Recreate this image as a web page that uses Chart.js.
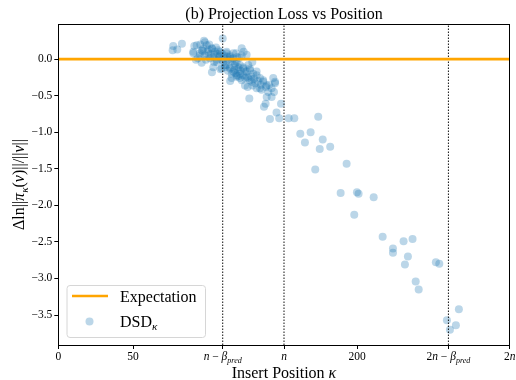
<!DOCTYPE html>
<html>
<head>
<meta charset="utf-8">
<script src="https://cdn.jsdelivr.net/npm/chart.js@4.4.1/dist/chart.umd.min.js"></script>
<style>
  html, body { margin: 0; padding: 0; background: #fff; }
  canvas { display: block; }
</style>
</head>
<body>
<canvas id="c" width="516" height="380"></canvas>
<script>
// Insert position κ of each sample and the change in log projection norm
const insertPositions = [
  // far tail
  149, 146, 141.6, 147.8, 154.1, 157.9, 173.9, 161.9, 168.8, 165,
  176.9, 174.9, 181.9, 171.9, 192.9, 188.9, 199.8, 200.9, 211, 198,
  217, 223.9, 223.9, 231, 237, 233.9, 231.9, 252.6, 254.9, 239.1,
  241.1, 268, 260, 266, 262,
  // main cluster
  76.9, 79.6, 82.7, 76.5, 91, 90.3, 92.1, 95.9, 98.1, 99.3,
  102.6, 97, 94.8, 100.3, 103.7, 102.8, 108.2, 110, 106, 109.3,
  112.6, 114.8, 117.1, 119.7, 122.7, 122.7, 126, 129.8, 111.7, 114.8,
  118.2, 109.3, 117.1, 120.4, 123.7, 121.5, 124.9, 126, 128.2, 116,
  119.3, 122.7, 128.2, 132.7, 126.7, 131.6, 137.1, 134.9, 138.9, 143.8,
  145, 140.5, 139.4, 144.3, 142.7, 127.8, 137.6, 138.7,
  92.6, 97.5, 101, 96.5, 103, 104.8, 107, 109.3, 112.6, 114.8,
  117.1, 119.3, 121.5, 123.7, 126, 128.2, 130.4, 132.7, 123.7, 127.1,
  134.9, 137.1, 139.4, 142.7, 145, 132.7, 136, 110.4, 112.6, 114.8,
  117.8, 119.3, 121.5, 115, 108.5, 106, 103.7, 90.3, 94.8, 101.5,
  127.1, 129.4, 124.9, 93.4, 98.8, 104.2, 107.5, 110.8, 113.5,
  100, 102, 104.5, 106.5, 108, 111, 113, 115.5, 116.5, 118,
  120, 122, 111.5, 113.5, 116, 118.5, 120.5, 125, 129, 131,
  133.5, 135.5, 130, 141, 98, 96, 95, 100.5, 105.5, 119,
  124, 121
];
const projectionLoss = [
  -0.61, -0.73, -0.82, -0.81, -0.81, -0.81, -0.79, -1.02, -1.0, -1.14,
  -1.1, -1.23, -1.2, -1.51, -1.43, -1.83, -1.82, -1.84, -1.89, -2.13,
  -2.43, -2.59, -2.65, -2.49, -2.46, -2.7, -2.81, -2.78, -2.8, -3.04,
  -3.15, -3.42, -3.57, -3.64, -3.7,
  0.18, 0.13, 0.21, 0.12, 0.18, 0.08, -0.01, -0.05, 0.23, 0.19,
  0.15, 0.14, 0.08, 0.05, 0.03, -0.18, 0.1, 0.28, -0.04, -0.01,
  0.08, 0.03, 0.08, 0.03, 0.15, 0.05, 0.06, -0.04, -0.08, -0.11,
  -0.06, -0.13, -0.17, -0.11, -0.11, -0.2, -0.17, -0.24, -0.15, -0.26,
  -0.24, -0.29, -0.29, -0.22, -0.38, -0.33, -0.29, -0.4, -0.38, -0.26,
  -0.33, -0.45, -0.52, -0.45, -0.52, -0.54, -0.65, -0.61,
  0.19, 0.25, 0.2, 0.11, 0.14, 0.1, 0.12, 0.08, 0.1, 0.05,
  0.01, -0.04, -0.08, -0.13, -0.17, -0.13, -0.2, -0.17, -0.22, -0.26,
  -0.26, -0.31, -0.36, -0.4, -0.31, -0.4, -0.42, -0.04, -0.08, -0.13,
  -0.15, -0.22, -0.26, -0.3, -0.14, -0.01, -0.11, 0.1, 0.05, 0.01,
  -0.08, -0.31, -0.36, 0.01, -0.01, -0.04, 0.03, 0.01, -0.01,
  0.1, 0.07, 0.06, 0.07, 0.05, 0.05, 0.03, 0.0, -0.03, -0.09,
  -0.14, -0.16, -0.11, -0.16, -0.2, -0.19, -0.23, -0.26, -0.24, -0.27,
  -0.3, -0.35, -0.36, -0.35, 0.05, 0.12, 0.2, 0.13, 0.16, 0.08,
  0.1, 0.02
];

// Sequence length n and predicted offset β_pred that define the reference positions
const seqLen = 151;
const betaPred = 41;
const markerPositions = [seqLen - betaPred, seqLen, 2 * seqLen - betaPred];

const xTickValues = [0, 50, seqLen - betaPred, seqLen, 200, 2 * seqLen - betaPred, 2 * seqLen];
const xTickLabels = ['0', '50', '*n* − *β*_{*pred*}', '*n*', '200', '2*n* − *β*_{*pred*}', '2*n*'];
const yTickValues = [0, -0.5, -1.0, -1.5, -2.0, -2.5, -3.0, -3.5];
const yMin = -3.91, yMax = 0.48;
const expectationLevel = 0;

const titleText = '(b) Projection Loss vs Position';
const xAxisTitle = 'Insert Position *κ*';
const yAxisTitle = 'Δln||*π*_{*κ*}(*v*)||/||*v*||';
const legendLabels = ['Expectation', 'DSD_{*κ*}'];

const SERIF = '"Liberation Serif", "Times New Roman", serif';
const ORANGE = '#FFA500';
const DOT = 'rgba(31,119,180,0.3)';

// Tiny markup: *...* toggles italics, _{...} is a subscript
function parseMath(s) {
  const segs = [];
  let italic = false, sub = false, buf = '';
  const push = () => { if (buf) segs.push({ t: buf, italic, sub }); buf = ''; };
  for (let i = 0; i < s.length; i++) {
    const c = s[i];
    if (c === '*') { push(); italic = !italic; }
    else if (c === '_' && s[i + 1] === '{') { push(); sub = true; i++; }
    else if (c === '}' && sub) { push(); sub = false; }
    else buf += c;
  }
  push();
  return segs;
}
function segFont(seg, size) {
  return (seg.italic ? 'italic ' : '') + (seg.sub ? size * 0.7 : size) + 'px ' + SERIF;
}
function drawMath(ctx, s, x, y, size, align) {
  const segs = parseMath(s);
  let w = 0;
  segs.forEach(seg => { ctx.font = segFont(seg, size); seg.w = ctx.measureText(seg.t).width; w += seg.w; });
  let cx = align === 'center' ? x - w / 2 : (align === 'right' ? x - w : x);
  ctx.textAlign = 'left';
  ctx.textBaseline = 'alphabetic';
  segs.forEach(seg => {
    ctx.font = segFont(seg, size);
    ctx.fillText(seg.t, cx, y + (seg.sub ? size * 0.22 : 0));
    cx += seg.w;
  });
}

const decorations = {
  id: 'decorations',
  afterDraw(chart) {
    const { ctx, chartArea: a, scales } = chart;
    ctx.save();
    ctx.fillStyle = '#000';

    // frame around the plotting area
    ctx.strokeStyle = '#000';
    ctx.lineWidth = 1;
    ctx.strokeRect(Math.round(a.left) + 0.5, Math.round(a.top) + 0.5,
                   Math.round(a.right - a.left), Math.round(a.bottom - a.top));

    // x tick labels
    xTickValues.forEach((v, i) => {
      drawMath(ctx, xTickLabels[i], scales.x.getPixelForValue(v), a.bottom + 15, 11.5, 'center');
    });

    // title and axis titles
    drawMath(ctx, titleText, (a.left + a.right) / 2, 19, 16, 'center');
    drawMath(ctx, xAxisTitle, (a.left + a.right) / 2, 378, 16, 'center');
    ctx.save();
    ctx.translate(24, (a.top + a.bottom) / 2);
    ctx.rotate(-Math.PI / 2);
    drawMath(ctx, yAxisTitle, 0, 0, 16, 'center');
    ctx.restore();

    // legend
    const lx = 66.5, ly = 285, lw = 138.5, lh = 52;
    ctx.beginPath();
    ctx.roundRect(lx + 0.5, ly + 0.5, lw, lh, 3);
    ctx.fillStyle = 'rgba(255,255,255,0.8)';
    ctx.fill();
    ctx.strokeStyle = '#d6d6d6';
    ctx.stroke();

    ctx.strokeStyle = ORANGE;
    ctx.lineWidth = 2.6;
    ctx.beginPath();
    ctx.moveTo(72, 296);
    ctx.lineTo(108, 296);
    ctx.stroke();

    ctx.fillStyle = DOT;
    ctx.beginPath();
    ctx.arc(89.5, 321.5, 4, 0, Math.PI * 2);
    ctx.fill();

    ctx.fillStyle = '#000';
    drawMath(ctx, legendLabels[0], 120, 301.5, 16, 'left');
    drawMath(ctx, legendLabels[1], 120, 326.5, 16, 'left');
    ctx.restore();
  }
};

const scatterPoints = insertPositions.map((x, i) => ({ x, y: projectionLoss[i] }));
const markerSets = markerPositions.map(p => ({
  type: 'line',
  data: [{ x: p, y: yMin }, { x: p, y: yMax }],
  borderColor: '#111',
  borderWidth: 1,
  borderDash: [1.5, 1.5],
  pointRadius: 0
}));

new Chart(document.getElementById('c'), {
  type: 'scatter',
  data: {
    datasets: [
      {
        type: 'line',
        label: 'Expectation',
        data: [{ x: 0, y: expectationLevel }, { x: 2 * seqLen, y: expectationLevel }],
        borderColor: ORANGE,
        borderWidth: 2.6,
        pointRadius: 0
      },
      ...markerSets,
      {
        label: 'DSD',
        data: scatterPoints,
        backgroundColor: DOT,
        borderWidth: 0,
        pointRadius: 4,
        pointHoverRadius: 4
      }
    ]
  },
  options: {
    responsive: false,
    animation: false,
    devicePixelRatio: 1,
    layout: { padding: { top: 24, right: 6.3, left: 0, bottom: 0 } },
    plugins: { legend: { display: false }, title: { display: false }, tooltip: { enabled: false } },
    scales: {
      x: {
        type: 'linear',
        min: 0,
        max: 2 * seqLen,
        afterBuildTicks: s => { s.ticks = xTickValues.map(v => ({ value: v })); },
        afterFit: s => { s.height = 35; },
        ticks: { display: false },
        grid: { drawOnChartArea: false, drawTicks: true, tickLength: 4, color: '#000' },
        border: { color: '#000', width: 1 }
      },
      y: {
        type: 'linear',
        min: yMin,
        max: yMax,
        afterBuildTicks: s => { s.ticks = yTickValues.map(v => ({ value: v })); },
        afterFit: s => { s.width = 58.3; },
        ticks: {
          callback: v => v.toFixed(1).replace('-', '−'),
          font: { family: SERIF, size: 11.5 },
          color: '#000',
          padding: 2
        },
        grid: { drawOnChartArea: false, drawTicks: true, tickLength: 4, color: '#000' },
        border: { color: '#000', width: 1 }
      }
    }
  },
  plugins: [decorations]
});
</script>
</body>
</html>
